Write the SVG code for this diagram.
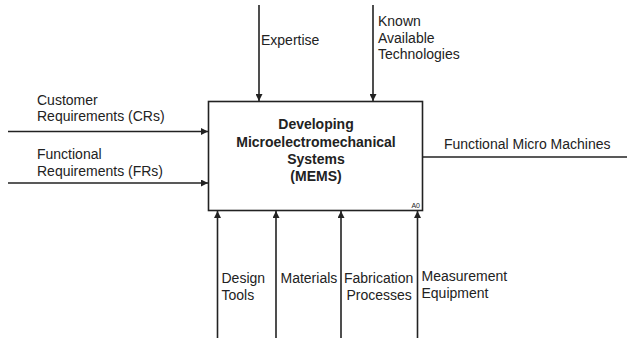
<svg xmlns="http://www.w3.org/2000/svg" width="627" height="339" viewBox="0 0 627 339">
<style>
text{font-family:"Liberation Sans",Arial,sans-serif;font-size:14px;fill:#222}
.t{font-weight:bold;text-anchor:middle}
.c{stroke:#222;stroke-width:1.6;fill:none}
</style>
<defs>
<marker id="ah" viewBox="0 0 10 10" refX="10" refY="5" markerWidth="8" markerHeight="7" markerUnits="userSpaceOnUse" orient="auto">
<path d="M0,0 L10,5 L0,10 z" fill="#222"/>
</marker>
</defs>
<rect width="627" height="339" fill="#fff"/>
<g id="connectors">
<line class="c" x1="259" y1="5" x2="259" y2="101" marker-end="url(#ah)"/>
<line class="c" x1="373" y1="5" x2="373" y2="101" marker-end="url(#ah)"/>
<line class="c" x1="8" y1="131.5" x2="208" y2="131.5" marker-end="url(#ah)"/>
<line class="c" x1="8" y1="183" x2="208" y2="183" marker-end="url(#ah)"/>
<line class="c" x1="423" y1="157" x2="627" y2="157"/>
<line class="c" x1="217.5" y1="338" x2="217.5" y2="211" marker-end="url(#ah)"/>
<line class="c" x1="276" y1="338" x2="276" y2="211" marker-end="url(#ah)"/>
<line class="c" x1="341" y1="338" x2="341" y2="211" marker-end="url(#ah)"/>
<line class="c" x1="417.5" y1="338" x2="417.5" y2="211" marker-end="url(#ah)"/>
<text x="261" y="45">Expertise</text>
<text x="378" y="26">Known</text>
<text x="378" y="42.5">Available</text>
<text x="378" y="59">Technologies</text>
<text x="37" y="105">Customer</text>
<text x="37" y="121">Requirements (CRs)</text>
<text x="37" y="159">Functional</text>
<text x="37" y="176">Requirements (FRs)</text>
<text x="444" y="149">Functional Micro Machines</text>
<text x="221.5" y="283">Design</text>
<text x="221.5" y="300">Tools</text>
<text x="280.5" y="283">Materials</text>
<text x="344" y="283">Fabrication</text>
<text x="346.5" y="300">Processes</text>
<text x="421.5" y="281">Measurement</text>
<text x="421.5" y="298">Equipment</text>
</g>
<g id="A0">
<rect x="208.5" y="101.5" width="214" height="109" fill="#fff" stroke="#222" stroke-width="1.6"/>
<text class="t" x="316" y="129">Developing</text>
<text class="t" x="316" y="147">Microelectromechanical</text>
<text class="t" x="316" y="164">Systems</text>
<text class="t" x="316" y="181">(MEMS)</text>
<text x="420" y="208" style="font-size:7px;text-anchor:end">A0</text>
</g>
</svg>
